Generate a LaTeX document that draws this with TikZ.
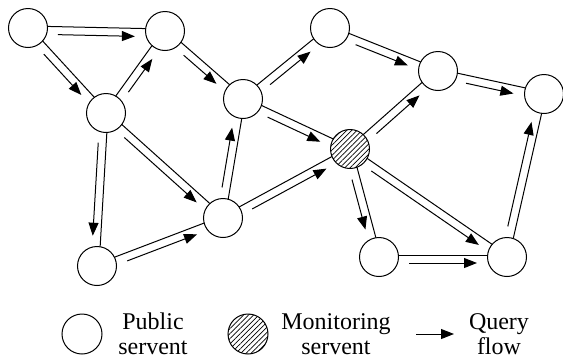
\documentclass[tikz,border=0pt]{standalone}
\usepackage{fontspec}
\setmainfont{Liberation Serif}
\usetikzlibrary{calc,arrows.meta,patterns.meta}

\tikzset{
  servent/.style={circle, draw, line width=0.5pt, minimum size=19.5pt, inner sep=0pt},
  monitor/.style={servent, pattern={Lines[angle=45,distance=1.8pt,line width=0.35pt]}},
  flowline/.style={line width=0.5pt},
  qarrow/.style={line width=0.5pt, -{Triangle[length=6.5pt,width=5pt]}},
  legtext/.style={align=center, inner sep=0pt, font=\fontsize{12}{12.5}\selectfont}
}

\begin{document}
\begin{tikzpicture}[x=0.5pt, y=-0.5pt]
  \useasboundingbox (0,0) rectangle (563,360);

  % Public servents
  \node[servent] (A) at (28,28) {};
  \node[servent] (B) at (165,31) {};
  \node[servent] (C) at (106,113) {};
  \node[servent] (D) at (243,99) {};
  \node[servent] (E) at (330,28) {};
  \node[servent] (F) at (438,71) {};
  \node[servent] (G) at (544,94) {};
  \node[servent] (H) at (223,218) {};
  \node[servent] (I) at (97,266) {};
  \node[servent] (J) at (379,257) {};
  \node[servent] (K) at (507,257) {};

  % Monitoring servent
  \node[monitor] (M) at (350,149) {};

  % Query flows: link plus offset arrow (90 = arrow on the right, -90 = on the left)
  \foreach \a/\b/\side in {A/B/90, A/C/90, C/B/90, B/D/90, C/I/90, C/H/90,
      I/H/90, H/D/-90, D/E/90, D/M/90, E/F/90, F/G/90, M/F/90, H/M/90,
      M/J/90, M/K/90, J/K/90, K/G/-90}{
    \pgfmathsetmacro{\opp}{-\side}
    \draw[flowline] ($(\a)!9.75pt!(\b)!1pt!\opp:(\a)$) -- ($(\b)!9.75pt!(\a)!1pt!\side:(\b)$);
    \draw[qarrow] ($(\a)!15pt!(\b)!3pt!\side:(\a)$) -- ($(\b)!15pt!(\a)!3pt!\opp:(\b)$);
  }

  % Legend
  \node[servent, minimum size=20pt] (legpub) at (82,334) {};
  \node[legtext] (legpubtext) at (153,334) {Public\\servent};
  \node[monitor, minimum size=20pt] (legmon) at (248,334) {};
  \node[legtext] (legmontext) at (336,334) {Monitoring\\servent};
  \coordinate (legflowa) at (416,334);
  \coordinate (legflowb) at (454,334);
  \draw[qarrow] (legflowa) -- (legflowb);
  \node[legtext] (legflowtext) at (499,334) {Query\\flow};
\end{tikzpicture}
\end{document}
